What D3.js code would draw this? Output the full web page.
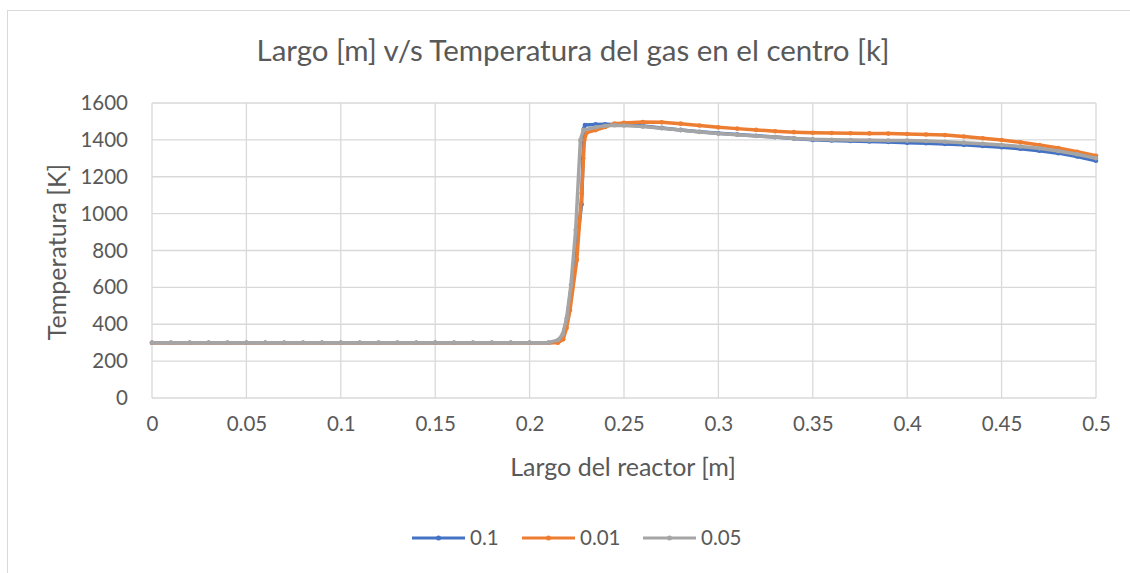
<!DOCTYPE html>
<html><head><meta charset="utf-8">
<script src="https://cdn.jsdelivr.net/npm/d3@7"></script>
<style>body{margin:0;background:#fff;} text{font-family:Lato,"Noto Sans",sans-serif;fill:#595959;}</style>
</head><body><svg id="c" width="1130" height="573"></svg>
<script>
const seriesNames = ["0.1", "0.01", "0.05"];
const colors = ["#4472C4", "#ED7D31", "#A5A5A5"];
const xTicks = [0,0.05,0.1,0.15,0.2,0.25,0.3,0.35,0.4,0.45,0.5];
const yTicks = [0,200,400,600,800,1000,1200,1400,1600];
const flatX = [0,0.01,0.02,0.03,0.04,0.05,0.06,0.07,0.08,0.09,0.1,0.11,0.12,0.13,0.14,0.15,0.16,0.17,0.18,0.19,0.2,0.21];
const flatT = [300,300,300,300,300,300,300,300,300,300,300,300,300,300,300,300,300,300,300,300,300,300];
const plateauX = [0.24,0.245,0.25,0.26,0.27,0.28,0.29,0.3,0.31,0.32,0.33,0.34,0.35,0.36,0.37,0.38,0.39,0.4,0.41,0.42,0.43,0.44,0.45,0.46,0.47,0.48,0.49,0.5];
// series 0.1
const riseX_01 = [0.215,0.2175,0.22,0.2225,0.2255,0.2275,0.2283,0.2288,0.2293,0.235];
const riseT_01 = [305,335,440,640,880,1050,1300,1460,1481,1484];
const plat_01 = [1485,1484,1482,1475,1465,1454,1444,1436,1429,1422,1415,1407,1400,1397,1394,1391,1389,1385,1382,1378,1373,1367,1360,1352,1341,1328,1310,1287];
// series 0.01
const riseX_001 = [0.215,0.2178,0.2196,0.2214,0.225,0.2276,0.229,0.2302,0.235];
const riseT_001 = [300,318,380,477,749,1110,1399,1439,1453];
const plat_001 = [1470,1488,1492,1497,1495,1488,1478,1468,1461,1454,1447,1442,1439,1437,1436,1435,1434,1432,1429,1426,1418,1409,1399,1387,1372,1356,1336,1314];
// series 0.05
const riseX_005 = [0.2152,0.2175,0.2196,0.2219,0.2244,0.2269,0.2285,0.235];
const riseT_005 = [315,345,432,613,911,1399,1454,1468];
const plat_005 = [1476,1479,1478,1472,1463,1453,1443,1434,1428,1421,1415,1408,1403,1401,1399,1398,1397,1396,1394,1390,1385,1379,1372,1364,1354,1340,1322,1300];

function build(rx, rt, pt){
  const xs = flatX.concat(rx, plateauX), ts = flatT.concat(rt, pt);
  return xs.map((x,i)=>({x, t: ts[i]}));
}
const data = [build(riseX_01,riseT_01,plat_01), build(riseX_001,riseT_001,plat_001), build(riseX_005,riseT_005,plat_005)];

const svg = d3.select("#c");
svg.append("rect").attr("x",7.5).attr("y",10.5).attr("width",1140).attr("height",600).attr("fill","#fff").attr("stroke","#d9d9d9").attr("stroke-width",1);

const L=152, R=1096, T=103, B=398;
const x = d3.scaleLinear().domain([0,0.5]).range([L,R]);
const y = d3.scaleLinear().domain([0,1600]).range([B,T]);

svg.append("g").selectAll("line").data(yTicks).join("line")
  .attr("x1",L).attr("x2",R).attr("y1",d=>y(d)).attr("y2",d=>y(d))
  .attr("stroke","#d9d9d9").attr("stroke-width",1.3);
svg.append("g").selectAll("line").data(xTicks).join("line")
  .attr("y1",T).attr("y2",B).attr("x1",d=>x(d)).attr("x2",d=>x(d))
  .attr("stroke","#d9d9d9").attr("stroke-width",1.3);

const yAxis = svg.append("g").attr("transform",`translate(${L},0)`)
  .call(d3.axisLeft(y).tickValues(yTicks).tickSize(0).tickPadding(24).tickFormat(d3.format("d")));
yAxis.select(".domain").remove();
yAxis.selectAll("text").attr("font-size",20.5).attr("fill","#595959").style("font-family","Lato");
const xAxis = svg.append("g").attr("transform",`translate(0,${B})`)
  .call(d3.axisBottom(x).tickValues(xTicks).tickSize(0).tickPadding(18).tickFormat(d=>String(d)));
xAxis.select(".domain").remove();
xAxis.selectAll("text").attr("font-size",20.5).attr("fill","#595959").style("font-family","Lato");

const line = d3.line().x(d=>x(d.x)).y(d=>y(d.t));
data.forEach((s,i)=>{
  svg.append("path").datum(s).attr("d",line).attr("fill","none")
    .attr("stroke",colors[i]).attr("stroke-width",3.5).attr("stroke-linejoin","round");
  svg.append("g").selectAll("circle").data(s).join("circle")
    .attr("cx",d=>x(d.x)).attr("cy",d=>y(d.t)).attr("r",2.3)
    .attr("fill",colors[i]);
});

svg.append("text").attr("x",573).attr("y",61).attr("text-anchor","middle")
  .attr("font-size",29.5).text("Largo [m] v/s Temperatura del gas en el centro [k]");
svg.append("text").attr("x",623).attr("y",476).attr("text-anchor","middle")
  .attr("font-size",25).text("Largo del reactor [m]");
svg.append("text").attr("transform","translate(66,252) rotate(-90)").attr("text-anchor","middle")
  .attr("font-size",25).text("Temperatura [K]");

const legX = [412,522,643];
seriesNames.forEach((n,i)=>{
  const g = svg.append("g").attr("transform",`translate(${legX[i]},538)`);
  g.append("line").attr("x1",0).attr("x2",53).attr("stroke",colors[i]).attr("stroke-width",3);
  g.append("circle").attr("cx",26.5).attr("r",2.5).attr("fill",colors[i]);
  g.append("text").attr("x",58).attr("y",7).attr("font-size",20.5).text(n);
});
</script></body></html>
